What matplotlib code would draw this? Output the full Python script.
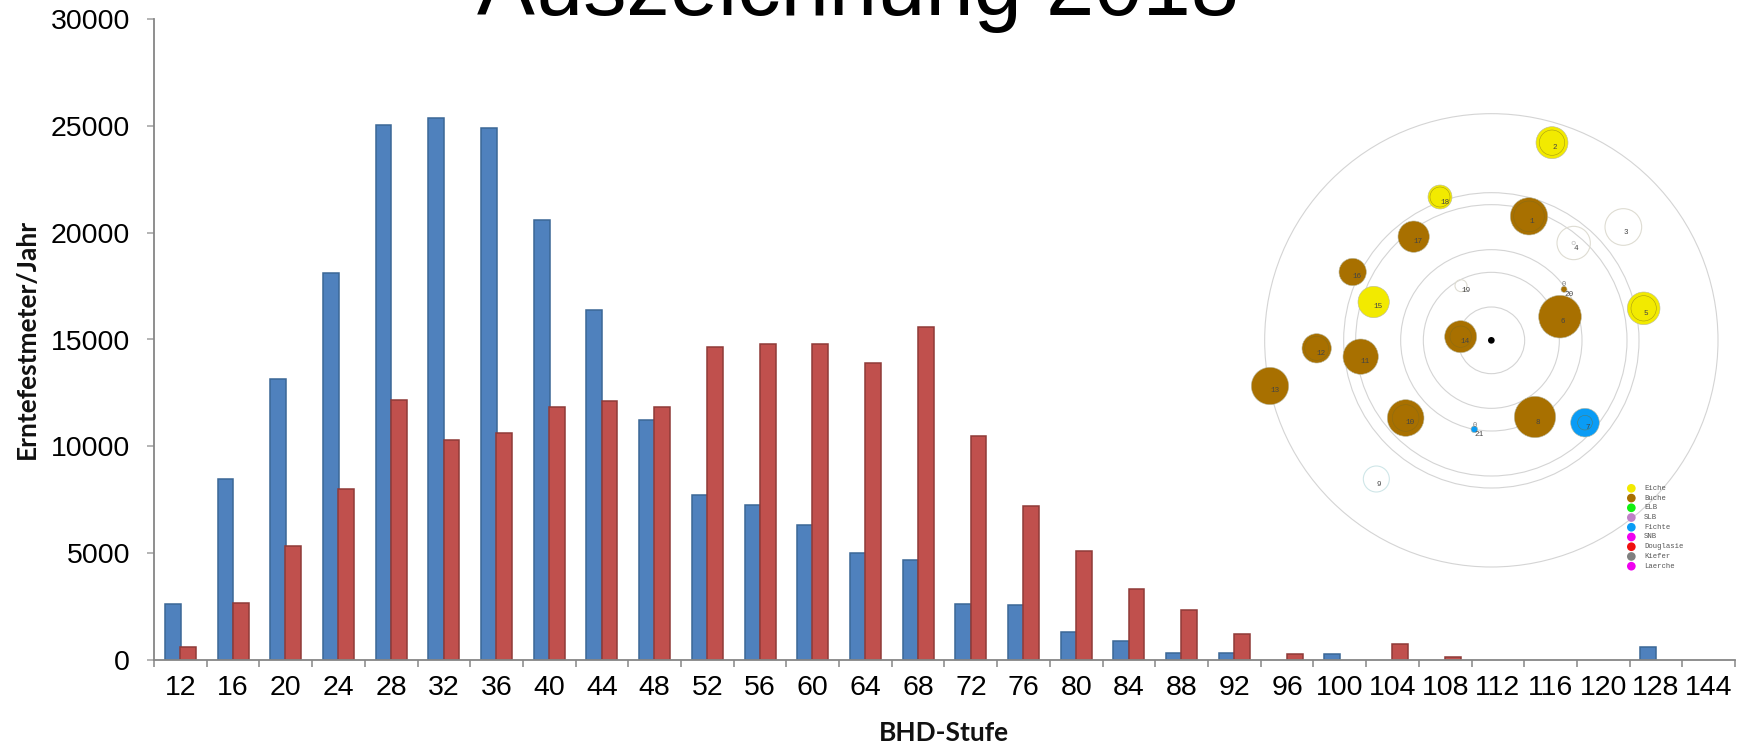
import matplotlib
matplotlib.use("Agg")
import matplotlib.pyplot as plt
from matplotlib.patches import Circle

W, H = 1742, 744

# ---- chart data ----
stufen = ['12','16','20','24','28','32','36','40','44','48','52','56','60','64','68','72','76','80','84','88','92','96','100','104','108','112','116','120','128','144']
blue_vals = [2600,8450,13150,18100,25050,25400,24900,20600,16400,11250,7700,7250,6300,5000,4650,2600,2550,1300,850,300,300,0,250,0,0,0,0,0,600,0]
red_vals = [600,2650,5300,8000,12150,10300,10600,11850,12100,11850,14650,14800,14800,13900,15600,10500,7200,5100,3300,2300,1200,250,0,750,100,0,0,0,0,0]
y_ticks = [0,5000,10000,15000,20000,25000,30000]
title = 'Auszeichnung 2018'
x_title = 'BHD-Stufe'
y_title = 'Erntefestmeter/Jahr'

# ---- stem map data (inset) ----
ring_radii = [100, 204, 272, 407, 443, 680]
centre_x, centre_y = 784, 751
tree_ids = ['1','2','3','4','5','6','7','8','9','10','11','12','13','14','15','16','17','18','19','20','21']
tree_x = [897,966,1180,1031,1241,990,1065,915,439,527,392,260,120,692,431,368,551,630,693,1002,733]
tree_y = [379,158,411,459,655,680,998,981,1167,984,800,775,888,740,636,546,440,321,587,598,1018]
tree_r = [56,48,55,50,49,64,43,62,39,55,53,44,56,48,47,41,47,36,18,9,10]
tree_inner = [46,38,0,5,38,0,22,0,0,40,0,36,0,32,0,0,0,30,0,0,0]
tree_species = ['Buche','Eiche','leer_a','leer_a','Eiche','Buche','Fichte','Buche','leer_b','Buche','Buche','Buche','Buche','Buche','Eiche','Buche','Buche','Eiche','leer_a','Buche','Fichte']
small_mark_x = [733, 1002]
small_mark_y = [1006, 585]
legend_names = ['Eiche','Buche','ELB','SLB','Fichte','SNB','Douglasie','Kiefer','Laerche']
legend_colors = ['#f2ea00','#a87000','#11f011','#c080c8','#0a9cf5','#f000f0','#f01010','#808080','#f000f0']
species_color = dict(zip(legend_names, legend_colors))

fig = plt.figure(figsize=(W/100, H/100), dpi=100, facecolor='white')
plt.rcParams['font.family'] = ['Liberation Sans', 'DejaVu Sans']

L, R, T, B = 154, 1735, 19.5, 659.5
ax = fig.add_axes([L/W, 1-B/H, (R-L)/W, (B-T)/H])
xpos = list(range(len(stufen)))
bw = 0.30
bx = [i+0.205 for i, v in zip(xpos, blue_vals) if v > 0]
bv = [v for v in blue_vals if v > 0]
rx = [i+0.495 for i, v in zip(xpos, red_vals) if v > 0]
rv = [v for v in red_vals if v > 0]
ax.bar(bx, bv, width=bw, align='edge', color='#4f81bd', edgecolor='#3b6796', linewidth=1.1, zorder=2)
ax.bar(rx, rv, width=bw, align='edge', color='#c0504d', edgecolor='#8f3a38', linewidth=1.1, zorder=3)
ax.set_xlim(0, len(stufen))
ax.set_ylim(0, 30000)
for s in ('top', 'right'):
    ax.spines[s].set_visible(False)
for s in ('left', 'bottom'):
    ax.spines[s].set_color('#868686')
    ax.spines[s].set_linewidth(1.3)
    ax.spines[s].set_zorder(4)
ax.set_yticks(y_ticks)
ax.set_xticks(xpos + [len(stufen)])
ax.set_xticklabels([])
ax.set_xticks([i+0.5 for i in xpos], minor=True)
ax.set_xticklabels(stufen, minor=True, fontsize=20.5)
ax.tick_params(axis='x', which='major', length=5.2, width=1.1, color='#868686')
ax.tick_params(axis='x', which='minor', length=0, pad=11, labelsize=20.5)
ax.tick_params(axis='y', length=5.2, width=1.1, color='#a0a0a0', pad=12, labelsize=20.5)

fig.text(858/W, 1-15/H, title, fontsize=62.5, ha='center', va='baseline', color='black')
fig.text(944/W, 1-733/H, x_title, fontsize=19, fontweight='bold', family='Lato', ha='center', va='center', color='#111111')
fig.text(27/W, 1-339/H, y_title, fontsize=19, fontweight='bold', family='Lato', rotation=90, ha='center', va='center', color='#111111')

# stem map inset: coordinates are in a 1500-unit square over 500 px
ia = fig.add_axes([1230/W, 1-590/H, 500/W, 500/H], zorder=5)
ia.set_xlim(0, 1500)
ia.set_ylim(1500, 0)
ia.set_aspect('equal')
ia.axis('off')
for r in ring_radii:
    ia.add_patch(Circle((centre_x, centre_y), r, fill=False, ec='#d4d4d4', lw=0.8, zorder=1))
ia.add_patch(Circle((centre_x, centre_y), 10, fc='black', ec='none', zorder=6))
outline = {'leer_a': '#dedcd2', 'leer_b': '#cfe6e8'}
for n, x, y, r, ri, sp in zip(tree_ids, tree_x, tree_y, tree_r, tree_inner, tree_species):
    if sp in outline:
        ia.add_patch(Circle((x, y), r, fill=False, ec=outline[sp], lw=0.8, zorder=3))
        if ri:
            ia.add_patch(Circle((x, y), ri, fill=False, ec='#c8c8c8', lw=0.6, zorder=3))
    else:
        c = species_color[sp]
        ia.add_patch(Circle((x, y), r, fc=c, ec='#b8b8a0', lw=0.4, zorder=3))
        if ri:
            ia.add_patch(Circle((x, y), ri, fill=False, ec='#7a6a20', lw=0.35, alpha=0.7, zorder=4))
    offs = 7 if int(n) < 10 else 14
    ia.text(x+offs, y+15, n, family='Liberation Mono', fontsize=5.5, color='#444444',
            ha='center', va='center', zorder=5)
for x, y in zip(small_mark_x, small_mark_y):
    ia.text(x, y, '0', family='Liberation Mono', fontsize=5, color='#777777',
            ha='center', va='center', zorder=5)
for i, (name, col) in enumerate(zip(legend_names, legend_colors)):
    yy = 1195 + 29.2*i
    ia.add_patch(Circle((1204, yy), 13, fc=col, ec='none', zorder=3))
    ia.text(1242, yy, name, family='Liberation Mono', fontsize=5.2, color='#555555',
            ha='left', va='center', zorder=5)

fig.savefig('out.png', dpi=100, facecolor='white')
